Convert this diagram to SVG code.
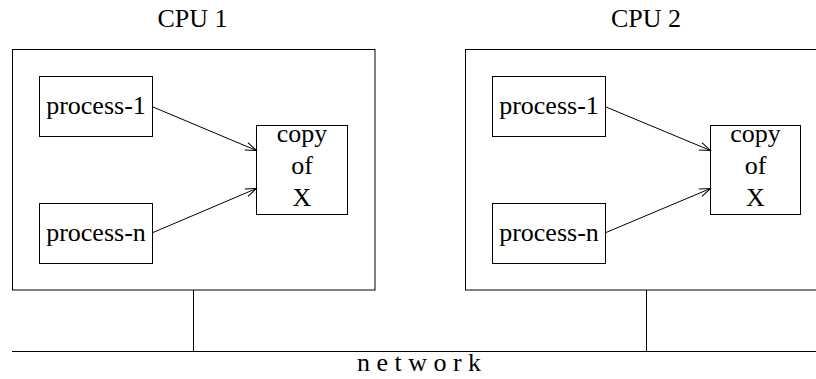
<svg xmlns="http://www.w3.org/2000/svg" width="816" height="379" viewBox="0 0 816 379">
<style>
.box{fill:none;stroke:#000;stroke-width:1}
.ln{fill:none;stroke:#000;stroke-width:1}
text{font-family:"Liberation Serif","Times New Roman",serif;font-size:26px;fill:#000;text-anchor:middle}
</style>
<defs>
<marker id="arr" markerWidth="14" markerHeight="10" refX="12" refY="5" orient="auto" markerUnits="userSpaceOnUse">
<polyline points="1,1 12,5 1,9" fill="none" stroke="#000" stroke-width="1"/>
</marker>
</defs>
<rect width="816" height="379" fill="#fff"/>
<g id="cpu1">
<text x="192.5" y="27">CPU 1</text>
<rect class="box" x="12.5" y="49.5" width="362.5" height="240.5"/>
</g>
<g id="cpu1-process-1">
<rect class="box" x="39.5" y="76.5" width="113" height="60"/>
<text x="96" y="113.5">process-1</text>
</g>
<g id="cpu1-process-n">
<rect class="box" x="39.5" y="203.5" width="113" height="60"/>
<text x="96" y="240.5">process-n</text>
</g>
<g id="cpu1-copy">
<rect class="box" x="256.5" y="125.5" width="91" height="89"/>
<text x="302" y="142">copy</text>
<text x="302" y="174">of</text>
<text x="302" y="206">X</text>
</g>
<g id="cpu2">
<text x="646" y="27">CPU 2</text>
<rect class="box" x="465.5" y="49.5" width="362.5" height="240.5"/>
</g>
<g id="cpu2-process-1">
<rect class="box" x="492.5" y="76.5" width="113" height="60"/>
<text x="549" y="113.5">process-1</text>
</g>
<g id="cpu2-process-n">
<rect class="box" x="492.5" y="203.5" width="113" height="60"/>
<text x="549" y="240.5">process-n</text>
</g>
<g id="cpu2-copy">
<rect class="box" x="710.5" y="125.5" width="90" height="89"/>
<text x="755.5" y="142">copy</text>
<text x="755.5" y="174">of</text>
<text x="755.5" y="206">X</text>
</g>
<g id="network">
<line class="ln" x1="12" y1="351.5" x2="816" y2="351.5"/>
<text x="419" y="371">n e t w o r k</text>
</g>
<g id="connectors">
<line class="ln" x1="153" y1="107" x2="256.5" y2="150.5" marker-end="url(#arr)"/>
<line class="ln" x1="153" y1="232.5" x2="256.5" y2="188.5" marker-end="url(#arr)"/>
<line class="ln" x1="606" y1="107" x2="710.5" y2="150.5" marker-end="url(#arr)"/>
<line class="ln" x1="606" y1="232.5" x2="710.5" y2="188.5" marker-end="url(#arr)"/>
<line class="ln" x1="193.5" y1="290" x2="193.5" y2="351.5"/>
<line class="ln" x1="646.5" y1="290" x2="646.5" y2="351.5"/>
</g>
</svg>
